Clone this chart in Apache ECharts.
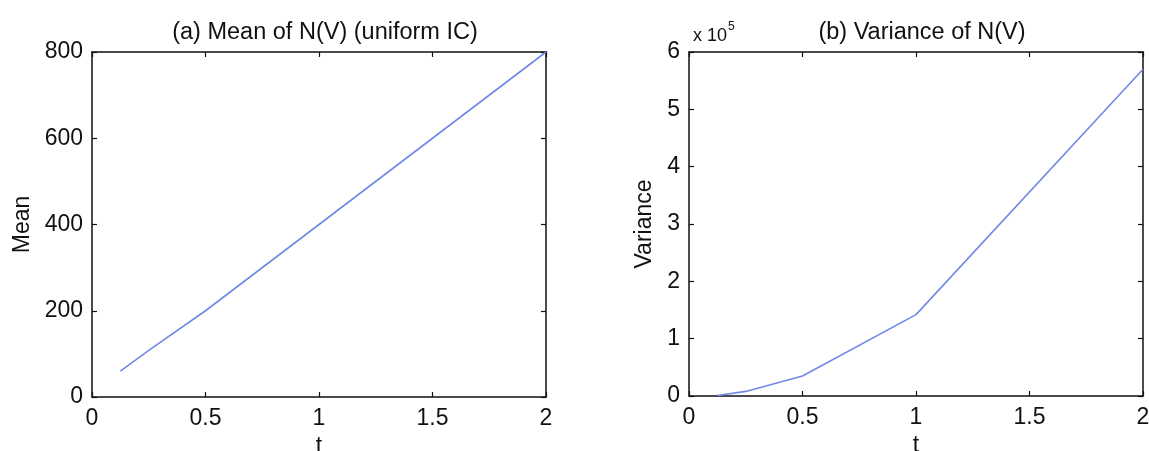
<!DOCTYPE html>
<html><head><meta charset="utf-8">
<script src="https://cdn.jsdelivr.net/npm/echarts@6/dist/echarts.min.js"></script>
<style>html,body{margin:0;padding:0;background:#fff}#c{width:1149px;height:451px}</style>
</head><body><div id="c"></div>
<script>
var tValues = [0.125, 0.25, 0.5, 1, 2];
var meanValues = [60, 108, 200, 400, 800];
var varianceValues = [1000, 8000, 35000, 142000, 570000];
var titleA = '(a) Mean of N(V) (uniform IC)';
var titleB = '(b) Variance of N(V)';

var FONT = '"Liberation Sans", Arial, sans-serif';
var lineColor = '#7188e6';
var chart = echarts.init(document.getElementById('c'), null, {renderer: 'canvas'});

function pairs(xs, ys) { return xs.map(function (x, i) { return [x, ys[i]]; }); }

function xAx(grid, pos, show) {
  return {
    type: 'value', gridIndex: grid, position: pos, min: 0, max: 2, interval: 0.5,
    name: show ? 't' : '', nameLocation: 'middle', nameGap: 34,
    nameTextStyle: {fontFamily: FONT, fontSize: 23, color: '#111'},
    axisLine: {show: true, onZero: false, lineStyle: {color: '#111', width: 1.5}},
    axisTick: {show: true, inside: true, length: 5, lineStyle: {color: '#111', width: 1.2}},
    axisLabel: {show: show, margin: 10, fontFamily: FONT, fontSize: 23, color: '#111'},
    splitLine: {show: false}
  };
}
function yAx(grid, pos, show, max, interval, name, gap, fmt) {
  return {
    type: 'value', gridIndex: grid, position: pos, min: 0, max: max, interval: interval,
    name: show ? name : '', nameLocation: 'middle', nameGap: gap, nameRotate: 90,
    nameTextStyle: {fontFamily: FONT, fontSize: 23, color: '#111'},
    axisLine: {show: true, onZero: false, lineStyle: {color: '#111', width: 1.5}},
    axisTick: {show: true, inside: true, length: 5, lineStyle: {color: '#111', width: 1.2}},
    axisLabel: {show: show, margin: 9, fontFamily: FONT, fontSize: 23, color: '#111', formatter: fmt},
    splitLine: {show: false}
  };
}

chart.setOption({
  animation: false,
  backgroundColor: '#fff',
  title: [
    {text: titleA, left: 320, top: 16, textAlign: 'center',
     textStyle: {fontFamily: FONT, fontSize: 23.5, fontWeight: 'normal', color: '#111'}},
    {text: titleB, left: 917, top: 16, textAlign: 'center',
     textStyle: {fontFamily: FONT, fontSize: 23.5, fontWeight: 'normal', color: '#111'}},
    {text: '{a|x 10}{b|5}', left: 688, top: 16,
     textStyle: {rich: {
       a: {fontFamily: FONT, fontSize: 18, fontWeight: 'normal', color: '#111', verticalAlign: 'bottom', lineHeight: 24},
       b: {fontFamily: FONT, fontSize: 12, fontWeight: 'normal', color: '#111', verticalAlign: 'top', lineHeight: 24, padding: [0, 0, 12, 1]}
     }}}
  ],
  grid: [
    {left: 92, top: 52, width: 454, height: 345, containLabel: false, outerBoundsMode: 'none'},
    {left: 689, top: 52, width: 454, height: 344, containLabel: false, outerBoundsMode: 'none'}
  ],
  xAxis: [xAx(0, 'bottom', true), xAx(0, 'top', false), xAx(1, 'bottom', true), xAx(1, 'top', false)],
  yAxis: [
    yAx(0, 'left', true, 800, 200, 'Mean', 58, null),
    yAx(0, 'right', false, 800, 200, '', 0, null),
    yAx(1, 'left', true, 600000, 100000, 'Variance', 33, function (v) { return String(Math.round(v / 1e5)); }),
    yAx(1, 'right', false, 600000, 100000, '', 0, null)
  ],
  series: [
    {type: 'line', xAxisIndex: 0, yAxisIndex: 0, data: pairs(tValues, meanValues),
     showSymbol: false, lineStyle: {color: lineColor, width: 1.6}},
    {type: 'line', xAxisIndex: 2, yAxisIndex: 2, data: pairs(tValues, varianceValues),
     showSymbol: false, lineStyle: {color: lineColor, width: 1.6}}
  ]
});
</script></body></html>
